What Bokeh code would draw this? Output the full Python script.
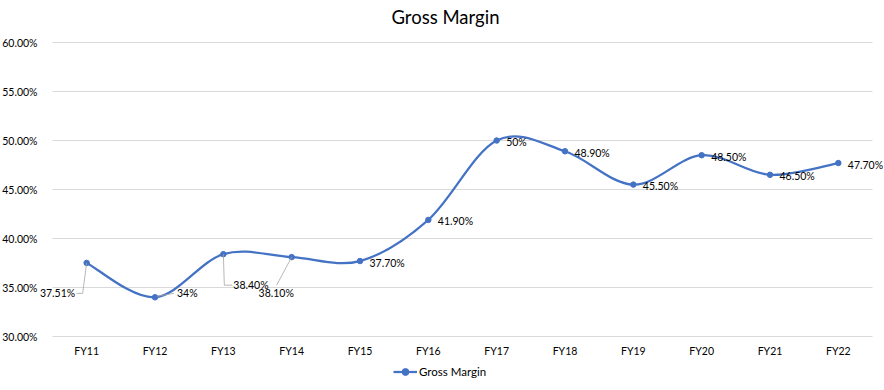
from bokeh.plotting import figure
from bokeh.models import Range1d, FixedTicker, NumeralTickFormatter, Legend, LegendItem, ColumnDataSource
from bokeh.embed import file_html
from bokeh.resources import INLINE
from bokeh.core.properties import value

# ---- data ----
categories = ["FY11", "FY12", "FY13", "FY14", "FY15", "FY16",
              "FY17", "FY18", "FY19", "FY20", "FY21", "FY22"]
gross_margin = [0.3751, 0.34, 0.384, 0.381, 0.377, 0.419,
                0.50, 0.489, 0.455, 0.485, 0.465, 0.477]
data_labels = ["37.51%", "34%", "38.40%", "38.10%", "37.70%", "41.90%",
               "50%", "48.90%", "45.50%", "48.50%", "46.50%", "47.70%"]
y_ticks = [0.30, 0.35, 0.40, 0.45, 0.50, 0.55, 0.60]

# ---- style / layout (figure pixels) ----
BLUE = "#4472C4"
GRID = "#d9d9d9"
FONT = "Lato"
W, H = 884, 382
AREA_LEFT, AREA_RIGHT = 52, 872 # plot area (gridline extent); frame spans 0..W
FRAME_TOP = 30                  # frame starts above the 60% line so its label is not clipped
AREA_TOP = 42                   # pixel row of the 60% gridline
AREA_BOTTOM = 336               # pixel row of the 30% gridline
Y_AXIS_PX = 46                  # pixel column where the y-axis labels are anchored
Y_MIN, Y_MAX = 0.30, 0.60
LEGEND_POS = (393, 2)           # legend box, px from frame bottom-left

# label offsets in px (dx right, dy down), alignment, leader polyline (px)
label_style = [
    (-11.5, 30.5, "right", [(0, 0), (-4, 30.5), (-10, 30.5)]),
    (22, -4, "left", [(2, -1), (19, -4)]),
    (10, 31, "left", [(0, 0), (1, 31), (9, 31)]),
    (-15.5, 35.5, "center", [(0, 0), (-15, 28)]),
] + [(9.5, 1.5, "left", None)] * 8

n = len(categories)
xs = list(range(n))
px_x = (AREA_RIGHT - AREA_LEFT) / n
px_y = (AREA_BOTTOM - AREA_TOP) / (Y_MAX - Y_MIN)
x_start = -0.5 - AREA_LEFT / px_x
x_end = n - 0.5 + (W - AREA_RIGHT) / px_x
y_start = Y_MIN - (H - AREA_BOTTOM) / px_y
y_end = Y_MAX + (AREA_TOP - FRAME_TOP) / px_y

p = figure(width=W, height=H, output_backend="svg", toolbar_location=None,
           x_range=Range1d(x_start, x_end), y_range=Range1d(y_start, y_end),
           min_border_left=0, min_border_right=0,
           min_border_top=FRAME_TOP, min_border_bottom=0,
           outline_line_color=None)

p.title.text = "Gross Margin"
p.title.align = "left"
p.title.offset = 391
p.title.standoff = 6
p.title.text_font = FONT
p.title.text_font_size = "18.5px"
p.title.text_font_style = "normal"
p.title.text_color = "#000000"

# axes (placed at fixed data positions inside the frame)
p.xaxis.ticker = FixedTicker(ticks=xs)
p.xaxis.major_label_overrides = {i: c for i, c in enumerate(categories)}
p.xaxis.fixed_location = Y_MIN
p.yaxis.ticker = FixedTicker(ticks=y_ticks)
p.yaxis.formatter = NumeralTickFormatter(format="0.00%")
p.yaxis.fixed_location = x_start + Y_AXIS_PX / px_x
for ax in (p.xaxis[0], p.yaxis[0]):
    ax.major_tick_line_color = None
    ax.minor_tick_line_color = None
    ax.axis_line_color = None
    ax.major_label_text_font = FONT
    ax.major_label_text_font_size = "10.5px"
    ax.major_label_text_color = "#000000"
p.xaxis.major_label_standoff = 2
p.yaxis.major_label_standoff = 3
p.xgrid.grid_line_color = None
p.ygrid.grid_line_color = None

# horizontal gridlines across the category area, at the y ticks
p.segment(x0=[-0.5] * len(y_ticks), x1=[n - 0.5] * len(y_ticks), y0=y_ticks, y1=y_ticks,
          line_color=GRID, line_width=1)

# smooth curve (Bezier segments, Catmull-Rom control points from the data)
x0, y0, x1, y1, cx0, cy0, cx1, cy1 = [], [], [], [], [], [], [], []
ys = gross_margin
for i in range(n - 1):
    a = i - 1 if i > 0 else i
    d = i + 2 if i + 2 < n else i + 1
    x0.append(xs[i]); y0.append(ys[i]); x1.append(xs[i + 1]); y1.append(ys[i + 1])
    cx0.append(xs[i] + (xs[i + 1] - xs[a]) / 6); cy0.append(ys[i] + (ys[i + 1] - ys[a]) / 6)
    cx1.append(xs[i + 1] - (xs[d] - xs[i]) / 6); cy1.append(ys[i + 1] - (ys[d] - ys[i]) / 6)
curve = p.bezier(x0=x0, y0=y0, x1=x1, y1=y1, cx0=cx0, cy0=cy0, cx1=cx1, cy1=cy1,
                 line_color=BLUE, line_width=2.25)

pts = p.scatter(xs, gross_margin, size=5.5, marker="circle", fill_color=BLUE, line_color=BLUE)

# leader lines
lx, ly = [], []
for i, (dx, dy, al, leader) in enumerate(label_style):
    if leader:
        lx.append([xs[i] + ox / px_x for ox, oy in leader])
        ly.append([gross_margin[i] - oy / px_y for ox, oy in leader])
p.multi_line(lx, ly, line_color="#a6a6a6", line_width=0.8)

src = ColumnDataSource(dict(x=xs, y=gross_margin, t=data_labels,
                            dx=[s[0] for s in label_style], dy=[s[1] for s in label_style],
                            al=[s[2] for s in label_style]))
p.text(x="x", y="y", text="t", x_offset="dx", y_offset="dy", text_align="al",
       text_baseline="middle", text_font=value(FONT), text_font_size="10.5px",
       text_color="#000000", source=src)

legend = Legend(items=[LegendItem(label="Gross Margin", renderers=[curve, pts])],
                orientation="horizontal", location=LEGEND_POS,
                label_text_font=FONT, label_text_font_size="11.5px", label_text_color="#000000",
                border_line_color=None, background_fill_alpha=0,
                margin=0, padding=2, label_height=17, glyph_height=17, glyph_width=24,
                label_standoff=2)
p.add_layout(legend, "center")

open("out.html", "w").write(file_html(p, INLINE))
